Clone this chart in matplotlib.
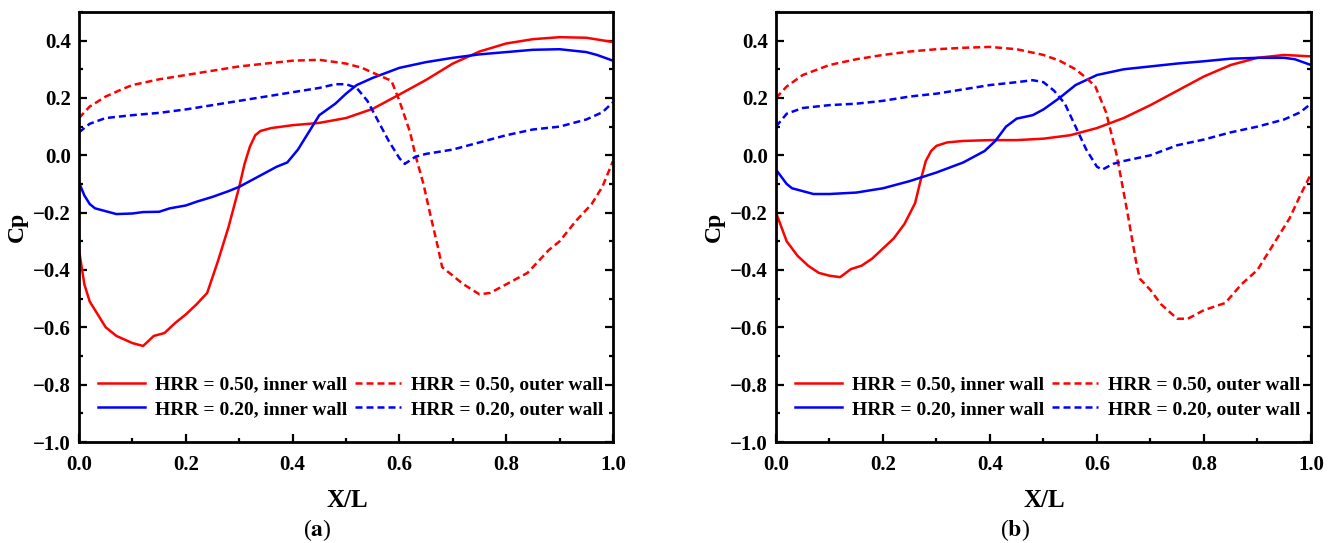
import numpy as np
import matplotlib
matplotlib.use("Agg")
import matplotlib.pyplot as plt
from matplotlib.ticker import MultipleLocator

plt.rcParams['font.family'] = ['Liberation Serif', 'DejaVu Serif']
plt.rcParams['font.weight'] = 'bold'
plt.rcParams['mathtext.fontset'] = 'stix'

# ---- panel (a) ----
a_in50_x = [0.0, 0.01, 0.02, 0.03, 0.05, 0.07, 0.10, 0.12, 0.14, 0.16, 0.18, 0.20, 0.22, 0.24,
            0.26, 0.28, 0.30, 0.31, 0.32, 0.33, 0.34, 0.36, 0.40, 0.45, 0.50, 0.55, 0.60,
            0.65, 0.70, 0.75, 0.80, 0.85, 0.90, 0.95, 1.0]
a_in50_y = [-0.33, -0.45, -0.51, -0.54, -0.60, -0.63, -0.655, -0.665, -0.63, -0.62, -0.585,
            -0.555, -0.52, -0.48, -0.37, -0.25, -0.11, -0.03, 0.03, 0.07, 0.085, 0.095, 0.105,
            0.113, 0.13, 0.162, 0.212, 0.263, 0.32, 0.362, 0.39, 0.405, 0.412, 0.41, 0.395]

a_in20_x = [0.0, 0.01, 0.02, 0.03, 0.05, 0.07, 0.10, 0.12, 0.15, 0.17, 0.20, 0.22, 0.25, 0.28,
            0.30, 0.32, 0.35, 0.37, 0.39, 0.41, 0.43, 0.45, 0.48, 0.50, 0.52, 0.55, 0.60,
            0.65, 0.70, 0.75, 0.80, 0.85, 0.90, 0.95, 0.97, 1.0]
a_in20_y = [-0.095, -0.14, -0.17, -0.185, -0.195, -0.205, -0.203, -0.198, -0.197, -0.185,
            -0.175, -0.162, -0.145, -0.125, -0.11, -0.09, -0.06, -0.04, -0.025, 0.02, 0.08,
            0.14, 0.18, 0.215, 0.245, 0.27, 0.305, 0.325, 0.34, 0.352, 0.36, 0.368, 0.37,
            0.36, 0.35, 0.33]

a_out50_x = [0.0, 0.02, 0.05, 0.08, 0.10, 0.15, 0.20, 0.25, 0.30, 0.35, 0.40, 0.45, 0.50,
             0.53, 0.56, 0.585, 0.60, 0.62, 0.63, 0.645, 0.657, 0.672, 0.68, 0.70, 0.72,
             0.75, 0.77, 0.80, 0.84, 0.88, 0.90, 0.93, 0.96, 0.98, 1.0]
a_out50_y = [0.13, 0.17, 0.205, 0.23, 0.245, 0.265, 0.28, 0.295, 0.31, 0.32, 0.33, 0.333,
             0.32, 0.305, 0.28, 0.26, 0.19, 0.08, 0.0, -0.1, -0.2, -0.32, -0.39, -0.42,
             -0.45, -0.485, -0.48, -0.45, -0.41, -0.33, -0.30, -0.23, -0.17, -0.11, -0.02]

a_out20_x = [0.0, 0.02, 0.05, 0.10, 0.15, 0.20, 0.25, 0.30, 0.35, 0.40, 0.45, 0.48, 0.50,
             0.52, 0.54, 0.56, 0.58, 0.60, 0.61, 0.63, 0.65, 0.70, 0.75, 0.80, 0.85, 0.90,
             0.95, 0.98, 1.0]
a_out20_y = [0.08, 0.11, 0.13, 0.14, 0.148, 0.16, 0.175, 0.19, 0.205, 0.22, 0.235, 0.248,
             0.248, 0.235, 0.19, 0.12, 0.05, -0.01, -0.03, -0.005, 0.005, 0.02, 0.045, 0.07,
             0.09, 0.10, 0.125, 0.15, 0.185]

# ---- panel (b) ----
b_in50_x = [0.0, 0.02, 0.04, 0.06, 0.08, 0.10, 0.12, 0.14, 0.16, 0.18, 0.20, 0.22, 0.24,
            0.26, 0.27, 0.28, 0.29, 0.30, 0.32, 0.35, 0.40, 0.45, 0.50, 0.55, 0.60, 0.65,
            0.70, 0.75, 0.80, 0.85, 0.90, 0.95, 1.0]
b_in50_y = [-0.20, -0.30, -0.35, -0.385, -0.41, -0.42, -0.425, -0.397, -0.385, -0.36,
            -0.325, -0.29, -0.24, -0.167, -0.09, -0.02, 0.015, 0.033, 0.045, 0.05, 0.053,
            0.053, 0.058, 0.07, 0.095, 0.13, 0.175, 0.225, 0.275, 0.315, 0.34, 0.35, 0.345]

b_in20_x = [0.0, 0.02, 0.03, 0.05, 0.07, 0.10, 0.15, 0.20, 0.25, 0.30, 0.35, 0.39, 0.41,
            0.43, 0.45, 0.48, 0.50, 0.53, 0.56, 0.60, 0.65, 0.70, 0.75, 0.80, 0.85, 0.90,
            0.95, 0.97, 1.0]
b_in20_y = [-0.05, -0.10, -0.115, -0.125, -0.135, -0.135, -0.13, -0.115, -0.09, -0.06,
            -0.025, 0.015, 0.05, 0.10, 0.128, 0.14, 0.16, 0.20, 0.245, 0.28, 0.30, 0.31,
            0.32, 0.328, 0.337, 0.34, 0.34, 0.335, 0.315]

b_out50_x = [0.0, 0.02, 0.05, 0.10, 0.15, 0.20, 0.25, 0.30, 0.35, 0.40, 0.45, 0.50, 0.53,
             0.56, 0.58, 0.597, 0.617, 0.637, 0.657, 0.673, 0.68, 0.70, 0.72, 0.75, 0.77,
             0.80, 0.84, 0.87, 0.90, 0.93, 0.96, 0.98, 1.0]
b_out50_y = [0.20, 0.24, 0.28, 0.315, 0.335, 0.35, 0.362, 0.37, 0.375, 0.378, 0.37, 0.35,
             0.33, 0.30, 0.27, 0.24, 0.15, 0.0, -0.2, -0.37, -0.43, -0.47, -0.52, -0.57,
             -0.57, -0.54, -0.515, -0.45, -0.40, -0.31, -0.22, -0.14, -0.065]

b_out20_x = [0.0, 0.02, 0.05, 0.10, 0.15, 0.20, 0.25, 0.30, 0.35, 0.40, 0.45, 0.48, 0.50,
             0.52, 0.54, 0.56, 0.58, 0.60, 0.61, 0.63, 0.65, 0.70, 0.75, 0.80, 0.85, 0.90,
             0.95, 0.98, 1.0]
b_out20_y = [0.10, 0.145, 0.165, 0.175, 0.18, 0.19, 0.205, 0.215, 0.23, 0.245, 0.255, 0.262,
             0.255, 0.225, 0.18, 0.10, 0.02, -0.04, -0.05, -0.03, -0.02, 0.0, 0.035, 0.055,
             0.08, 0.10, 0.125, 0.15, 0.18]

labels = ['HRR = 0.50, inner wall', 'HRR = 0.20, inner wall',
          'HRR = 0.50, outer wall', 'HRR = 0.20, outer wall']

panels = [
    ('a', [0.0591, 0.186, 0.3994, 0.792],
     [(a_in50_x, a_in50_y), (a_in20_x, a_in20_y), (a_out50_x, a_out50_y), (a_out20_x, a_out20_y)]),
    ('b', [0.5804, 0.186, 0.4001, 0.792],
     [(b_in50_x, b_in50_y), (b_in20_x, b_in20_y), (b_out50_x, b_out50_y), (b_out20_x, b_out20_y)]),
]

colors = ['#ff0000', '#0000ff', '#ff0000', '#0000ff']
styles = ['-', '-', (0, (2.8, 1.6)), (0, (2.8, 1.6))]

fig = plt.figure(figsize=(13.37, 5.43), dpi=100)

for tag, rect, series in panels:
    ax = fig.add_axes(rect)
    for (xs, ys), c, ls, lab in zip(series, colors, styles, labels):
        ax.plot(xs, ys, color=c, ls=ls, lw=1.8, label=lab)
    ax.set_xlim(0, 1)
    ax.set_ylim(-1.0, 0.5)
    ax.xaxis.set_major_locator(MultipleLocator(0.2))
    ax.xaxis.set_minor_locator(MultipleLocator(0.1))
    ax.yaxis.set_minor_locator(MultipleLocator(0.1))
    ax.set_yticks([-1.0, -0.8, -0.6, -0.4, -0.2, 0.0, 0.2, 0.4])
    ax.tick_params(which='both', direction='in', right=True, top=False, width=1.6,
                   labelsize=15)
    ax.tick_params(which='major', length=6)
    ax.tick_params(which='minor', length=3)
    ax.tick_params(axis='x', pad=9)
    ax.tick_params(axis='y', pad=6)
    for sp in ax.spines.values():
        sp.set_linewidth(2)
    ax.text(0.502, -0.135, 'X/L', transform=ax.transAxes, ha='center', va='center',
            fontsize=18, fontweight='bold')
    ax.text(-0.116, 0.5, 'Cp', transform=ax.transAxes, ha='center', va='center',
            rotation=90, fontsize=17, fontweight='bold')
    ax.legend(ncol=2, frameon=False, loc='center left', bbox_to_anchor=(0.036, 0.105),
              borderpad=0, borderaxespad=0,
              fontsize=14, handlelength=2.4, handletextpad=0.5, columnspacing=0.4,
              labelspacing=0.35)
    ax.text(0.446, -0.205, r'(' + r'$\mathbf{' + tag + r'}$' + ')', transform=ax.transAxes,
            ha='center', va='center', fontsize=17, fontweight='normal')

fig.savefig('out.png', dpi=100)
